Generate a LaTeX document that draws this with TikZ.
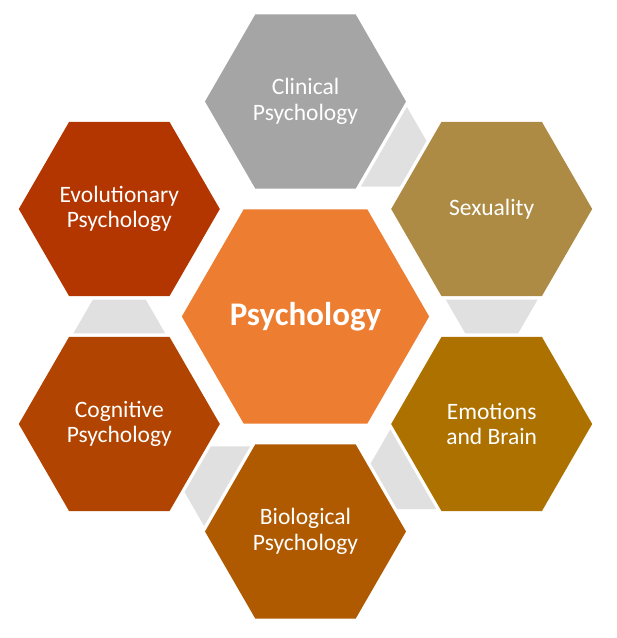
\documentclass[tikz,border=0pt]{standalone}
\usepackage{fontspec}
\setmainfont{Carlito}
\usetikzlibrary{shapes.geometric,calc}
\definecolor{core}{HTML}{ED7D31}
\definecolor{clinical}{HTML}{A5A5A5}
\definecolor{sexuality}{HTML}{AE8B45}
\definecolor{emotions}{HTML}{AD7100}
\definecolor{biological}{HTML}{AF5A00}
\definecolor{cognitive}{HTML}{B04400}
\definecolor{evolution}{HTML}{B33500}
\definecolor{linkgray}{HTML}{E0E0E0}
\begin{document}
\begin{tikzpicture}[
    hexa/.style={regular polygon, regular polygon sides=6, inner sep=0pt,
      outer sep=0pt, text=white, align=center},
    petal/.style={hexa, minimum size=201pt,
      font=\fontsize{23.5}{25.5}\selectfont},
    hub/.style={hexa, minimum size=245pt, fill=core,
      font=\fontsize{33}{36}\selectfont\bfseries},
    link/.style={fill=linkgray}]
  \useasboundingbox (-305.5pt,-321.5pt) rectangle (311.5pt,316.5pt);
  \path
    (0,0) node[hub] (0){Psychology}
    (90:215pt) node[petal, fill=clinical] (1){Clinical\\Psychology}
    (30:215pt) node[petal, fill=sexuality] (2){Sexuality}
    (-30:215pt) node[petal, fill=emotions] (3){Emotions\\and Brain}
    (-90:215pt) node[petal, fill=biological] (4){Biological\\Psychology}
    (-150:215pt) node[petal, fill=cognitive] (5){Cognitive\\Psychology}
    (150:215pt) node[petal, fill=evolution] (6){Evolutionary\\Psychology};
  \begin{scope}[link]
    \foreach \a/\b in {1/2,2/3,3/4,4/5,5/6}
      \fill ($(\a.center)!0.421!(\b.center)!46pt!90:(\b.center)$)
        -- ($(\a.center)!0.579!(\b.center)!26.4pt!90:(\b.center)$)
        -- ($(\a.center)!0.579!(\b.center)!26.4pt!-90:(\b.center)$)
        -- ($(\a.center)!0.421!(\b.center)!46pt!-90:(\b.center)$)
        -- cycle;
  \end{scope}
\end{tikzpicture}
\end{document}
